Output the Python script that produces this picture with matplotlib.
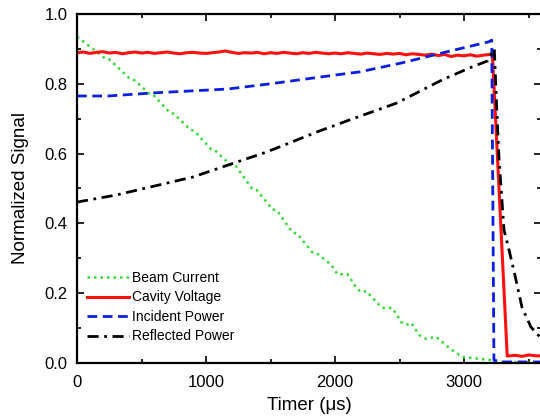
import numpy as np
from matplotlib import pyplot as plt
from matplotlib.ticker import MultipleLocator

plt.rcParams['font.family'] = ['Liberation Sans', 'DejaVu Sans']

# Beam current (stair-stepped decay)
beam_t = [0, 220, 250, 400, 430, 560, 590, 720, 750, 880, 910, 1040, 1070, 1190, 1230,
          1360, 1395, 1515, 1550, 1670, 1705, 1825, 1860, 1972, 2019, 2096, 2166, 2204,
          2243, 2328, 2367, 2444, 2514, 2552, 2591, 2653, 2707, 2784, 2885, 2985, 3050,
          3194, 3300, 3600]
beam_v = [0.935, 0.872, 0.870, 0.818, 0.815, 0.772, 0.769, 0.717, 0.714, 0.668, 0.665,
          0.612, 0.609, 0.568, 0.565, 0.498, 0.495, 0.440, 0.437, 0.374, 0.371, 0.317,
          0.314, 0.281, 0.254, 0.255, 0.215, 0.203, 0.206, 0.172, 0.158, 0.158, 0.117,
          0.109, 0.115, 0.080, 0.069, 0.075, 0.043, 0.017, 0.015, 0.009, 0.003, 0.0]

# Cavity voltage
cav_flat = [0.889, 0.891, 0.887, 0.890, 0.892, 0.888, 0.890, 0.886, 0.889, 0.891,
            0.888, 0.890, 0.887, 0.889, 0.891, 0.888, 0.886, 0.889, 0.890, 0.888,
            0.887, 0.889, 0.891, 0.894, 0.890, 0.887, 0.889, 0.888, 0.890, 0.886,
            0.889, 0.887, 0.890, 0.888, 0.886, 0.889, 0.887, 0.890, 0.888, 0.886,
            0.888, 0.886, 0.889, 0.887, 0.885, 0.888, 0.886, 0.884, 0.887, 0.885,
            0.887, 0.883, 0.886, 0.884, 0.882, 0.885, 0.881, 0.884, 0.878, 0.882,
            0.880, 0.883, 0.879, 0.882, 0.884]
cav_t = list(range(0, 3201, 50)) + [3220, 3335, 3400, 3450, 3500, 3550, 3600]
cav_v = cav_flat + [0.886, 0.020, 0.022, 0.019, 0.023, 0.021, 0.020]

# Incident power
inc_t = [0, 240, 600, 1170, 1500, 2000, 2190, 2520, 2860, 3190, 3215, 3232, 3300, 3600]
inc_v = [0.765, 0.765, 0.774, 0.785, 0.800, 0.825, 0.834, 0.860, 0.891, 0.920, 0.925,
         0.008, 0.003, 0.003]

# Reflected power
ref_t = [0, 300, 600, 900, 1170, 1450, 1570, 1860, 2110, 2480, 2830, 3040, 3180, 3235,
         3250, 3272, 3294, 3310, 3349, 3403, 3449, 3519, 3600]
ref_v = [0.461, 0.481, 0.507, 0.533, 0.567, 0.602, 0.619, 0.662, 0.696, 0.745, 0.811,
         0.845, 0.865, 0.900, 0.760, 0.580, 0.467, 0.381, 0.324, 0.238, 0.160, 0.103, 0.070]

fig = plt.figure(figsize=(5.4, 4.17), dpi=100)
ax = fig.add_axes([0.1426, 0.1295, 0.860, 0.837])

ax.plot(beam_t, beam_v, color='#33dd33', linestyle=(0, (1, 1.6)), lw=1.8, label='Beam Current')
ax.plot(cav_t, cav_v, color='#ff1010', linestyle='-', lw=2.2, label='Cavity Voltage')
ax.plot(inc_t, inc_v, color='#0a1ee6', linestyle=(0, (3.5, 2)), lw=2, label='Incident Power')
ax.plot(ref_t, ref_v, color='black', linestyle=(0, (4, 2, 1, 2)), lw=2, label='Reflected Power')

ax.set_xlim(0, 3600)
ax.set_ylim(0, 1.0)
ax.xaxis.set_major_locator(MultipleLocator(1000))
ax.xaxis.set_minor_locator(MultipleLocator(500))
ax.yaxis.set_major_locator(MultipleLocator(0.2))
ax.yaxis.set_minor_locator(MultipleLocator(0.1))
ax.tick_params(which='both', direction='in', top=True, right=True, width=1.2, labelsize=12)
ax.tick_params(which='major', length=5)
ax.tick_params(axis='x', which='major', pad=9)
ax.tick_params(axis='y', which='major', pad=7)
ax.tick_params(which='minor', length=3)
ax.yaxis.set_major_formatter(plt.FuncFormatter(lambda v, p: '%.1f' % v))
for s in ax.spines.values():
    s.set_linewidth(1.6)

ax.set_xlabel('Timer (\u03bcs)', fontsize=13.5, labelpad=5)
ax.set_ylabel('Normalized Signal', fontsize=13.5, labelpad=11)

ax.legend(loc='lower left', bbox_to_anchor=(0.01, 0.04), frameon=False, fontsize=10,
          handlelength=3.0, handletextpad=0.2, labelspacing=0.4, borderaxespad=0)

fig.savefig('out.png', dpi=100)
